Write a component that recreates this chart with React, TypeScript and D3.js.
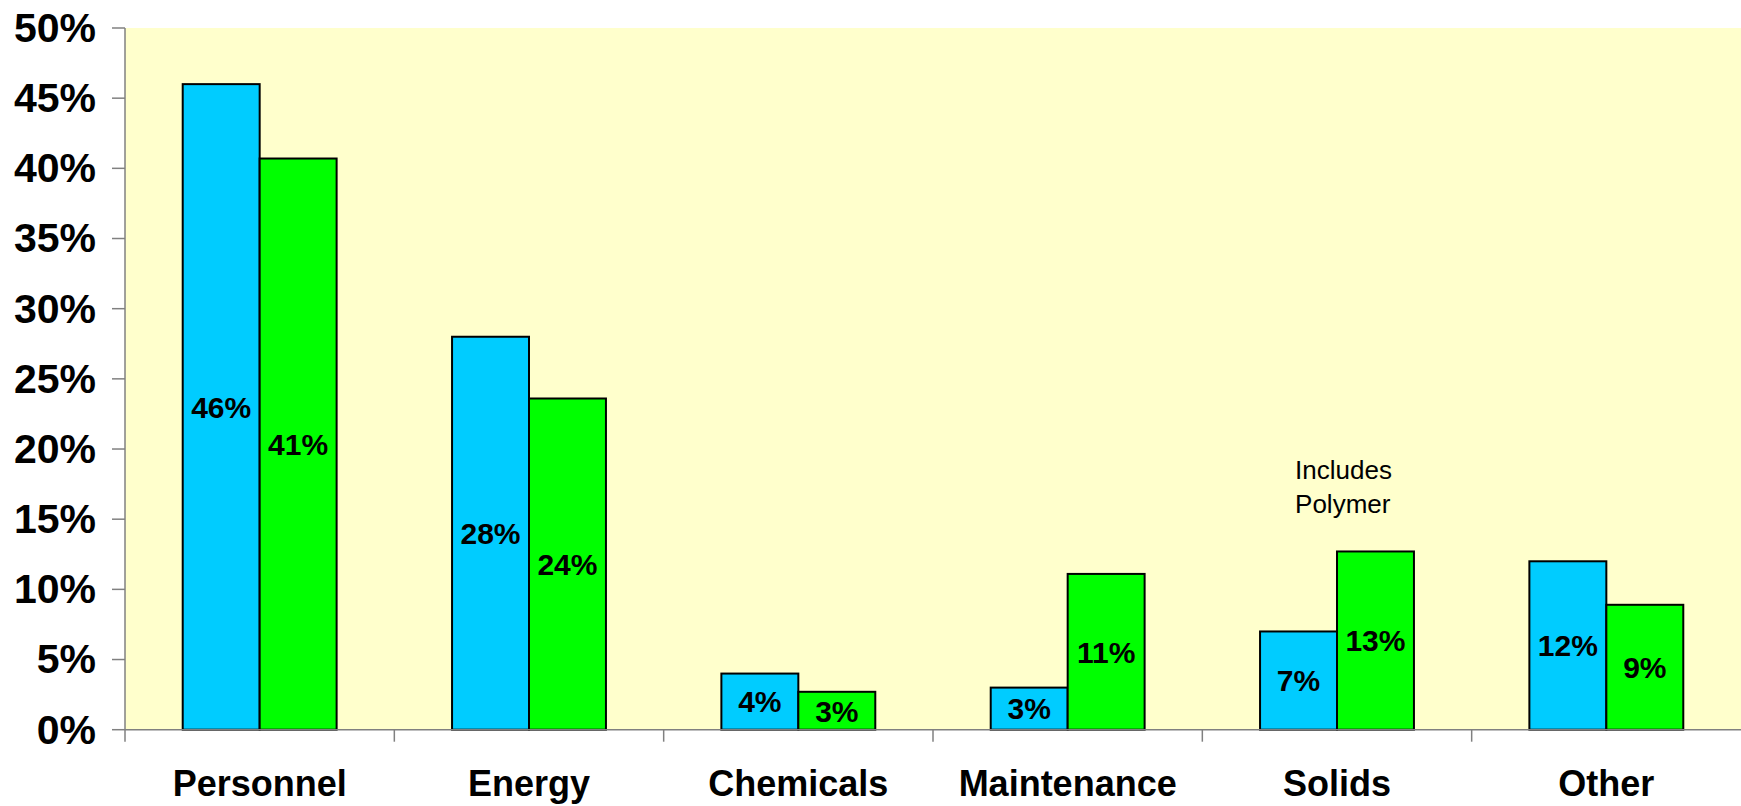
import React from "react";
import * as d3 from "d3";

// Cost share by category, two series (blue / green)
const categories = ["Personnel", "Energy", "Chemicals", "Maintenance", "Solids", "Other"];
const seriesKeys = ["blue", "green"];
const blueValues = [0.46, 0.28, 0.04, 0.03, 0.07, 0.12];
const greenValues = [0.407, 0.236, 0.027, 0.111, 0.127, 0.089];
const yTicks = [0, 0.05, 0.1, 0.15, 0.2, 0.25, 0.3, 0.35, 0.4, 0.45, 0.5];
const noteLines = ["Includes", "Polymer"];
const noteCategory = "Solids";

const W = 1741;
const H = 806;
const plot = { left: 125, right: 1741, top: 28, bottom: 729.7 };
const colors: Record<string, string> = { blue: "#00CCFF", green: "#00FF00" };
const FONT = "Arial, 'Liberation Sans', Helvetica, sans-serif";

export default function App() {
  const x0 = d3.scaleBand<string>().domain(categories).range([plot.left, plot.right]).padding(0);
  const x1 = d3
    .scaleBand<string>()
    .domain(seriesKeys)
    .range([0, x0.bandwidth()])
    .paddingInner(0)
    .paddingOuter(0.75);
  const y = d3.scaleLinear().domain([0, 0.5]).range([plot.bottom, plot.top]);
  const pct = d3.format(".0%");

  const rows = categories.map((c, i) => ({
    category: c,
    values: { blue: blueValues[i], green: greenValues[i] } as Record<string, number>,
  }));

  // note sits a little right of the Solids blue bar's left edge
  const noteX = (x0(noteCategory) ?? 0) + (x1("blue") ?? 0) + 35;

  return (
    <svg
      width={W}
      height={H}
      style={{ position: "absolute", left: 0, top: 0, background: "#ffffff" }}
      fontFamily={FONT}
    >
      {/* plot area */}
      <rect
        x={plot.left}
        y={plot.top}
        width={plot.right - plot.left}
        height={plot.bottom - plot.top}
        fill="#FFFFCC"
      />

      {/* bars */}
      {rows.map((r) =>
        seriesKeys.map((k) => {
          const v = r.values[k];
          const bx = (x0(r.category) ?? 0) + (x1(k) ?? 0);
          const by = y(v);
          return (
            <rect
              key={r.category + k}
              x={bx}
              y={by}
              width={x1.bandwidth()}
              height={y(0) - by}
              fill={colors[k]}
              stroke="#000000"
              strokeWidth={2}
            />
          );
        })
      )}

      {/* value labels */}
      {rows.map((r) =>
        seriesKeys.map((k) => {
          const v = r.values[k];
          const cx = (x0(r.category) ?? 0) + (x1(k) ?? 0) + x1.bandwidth() / 2;
          const cy = (y(v) + y(0)) / 2;
          return (
            <text
              key={"l" + r.category + k}
              x={cx}
              y={cy}
              dy="0.36em"
              textAnchor="middle"
              fontSize={30}
              fontWeight="bold"
              fill="#000000"
            >
              {pct(v)}
            </text>
          );
        })
      )}

      {/* y axis */}
      <line x1={plot.left} x2={plot.left} y1={plot.top} y2={plot.bottom} stroke="#808080" strokeWidth={1.5} />
      {yTicks.map((t) => (
        <g key={"yt" + t}>
          <line x1={plot.left - 13} x2={plot.left} y1={y(t)} y2={y(t)} stroke="#808080" strokeWidth={1.5} />
          <text
            x={96}
            y={y(t)}
            dy="0.34em"
            textAnchor="end"
            fontSize={41}
            fontWeight="bold"
            fill="#000000"
          >
            {pct(t)}
          </text>
        </g>
      ))}

      {/* x axis */}
      <line x1={plot.left} x2={plot.right} y1={plot.bottom} y2={plot.bottom} stroke="#808080" strokeWidth={1.5} />
      {categories.map((c) => (
        <line
          key={"xt" + c}
          x1={x0(c) ?? 0}
          x2={x0(c) ?? 0}
          y1={plot.bottom}
          y2={plot.bottom + 12}
          stroke="#808080"
          strokeWidth={1.5}
        />
      ))}
      {categories.map((c) => (
        <text
          key={"xl" + c}
          x={(x0(c) ?? 0) + x0.bandwidth() / 2}
          y={796}
          textAnchor="middle"
          fontSize={36}
          fontWeight="bold"
          fill="#000000"
        >
          {c}
        </text>
      ))}

      {/* annotation above the Solids bars */}
      <text x={noteX} y={479.3} fontSize={26} fill="#000000">
        {noteLines.map((line, i) => (
          <tspan key={line} x={noteX} dy={i === 0 ? 0 : 33.4}>
            {line}
          </tspan>
        ))}
      </text>
    </svg>
  );
}
